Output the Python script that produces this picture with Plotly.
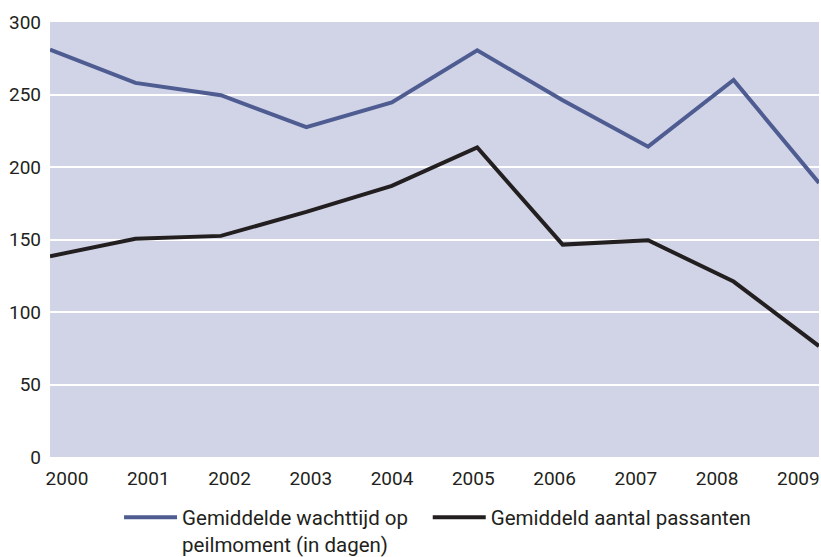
import plotly.graph_objects as go

years = [2000, 2001, 2002, 2003, 2004, 2005, 2006, 2007, 2008, 2009]
wachttijd = [281, 258, 249.5, 227.5, 244.5, 280.5, 246, 214, 260, 189]
passanten = [138.5, 150.5, 152.5, 169, 187, 213.5, 146.5, 149.5, 121, 76.5]
y_ticks = [0, 50, 100, 150, 200, 250, 300]

name_wacht = "Gemiddelde wachttijd op<br>peilmoment (in dagen)"
name_pass = "Gemiddeld aantal passanten"

fig = go.Figure()
fig.add_trace(
    go.Scatter(
        x=years,
        y=wachttijd,
        name=name_wacht,
        mode="lines",
        line=dict(color="#4e5c92", width=4),
        legend="legend",
    )
)
fig.add_trace(
    go.Scatter(
        x=years,
        y=passanten,
        name=name_pass,
        mode="lines",
        line=dict(color="#231f20", width=4),
        legend="legend2",
    )
)
# invisible trace that carries the year labels (labels sit slightly off the data points)
fig.add_trace(
    go.Scatter(
        x=years,
        y=passanten,
        xaxis="x2",
        mode="lines",
        line=dict(width=0, color="rgba(0,0,0,0)"),
        showlegend=False,
        hoverinfo="skip",
    )
)

legend_style = dict(
    orientation="h",
    xref="container",
    yref="container",
    y=0.107,
    xanchor="left",
    yanchor="top",
    itemwidth=53,
    valign="top",
    font=dict(size=20.5),
)

fig.update_layout(
    width=821,
    height=557,
    plot_bgcolor="#d0d4e6",
    paper_bgcolor="white",
    margin=dict(l=50, r=2, t=22, b=100, autoexpand=False),
    font=dict(family="Roboto", size=19, color="#231f20"),
    xaxis=dict(
        range=[2000, 2009],
        showticklabels=False,
        showgrid=False,
        zeroline=False,
        ticks="",
    ),
    xaxis2=dict(
        range=[1999.791, 2009.254],
        overlaying="x",
        anchor="y",
        side="bottom",
        tickvals=years,
        ticktext=[str(y) for y in years],
        showgrid=False,
        zeroline=False,
        ticks="",
        ticklabelstandoff=8,
    ),
    yaxis=dict(
        range=[0, 300],
        tickvals=y_ticks,
        showgrid=True,
        gridcolor="white",
        gridwidth=2,
        zeroline=False,
        ticks="",
        ticklabelstandoff=8,
    ),
    legend=dict(legend_style, x=0.145),
    legend2=dict(legend_style, x=0.521),
    showlegend=True,
)

# drop the default page margin so the figure sits at the window's corner
fig.write_html(
    "out.html",
    config={"displayModeBar": False},
    post_script="document.body.style.margin='0';",
)
